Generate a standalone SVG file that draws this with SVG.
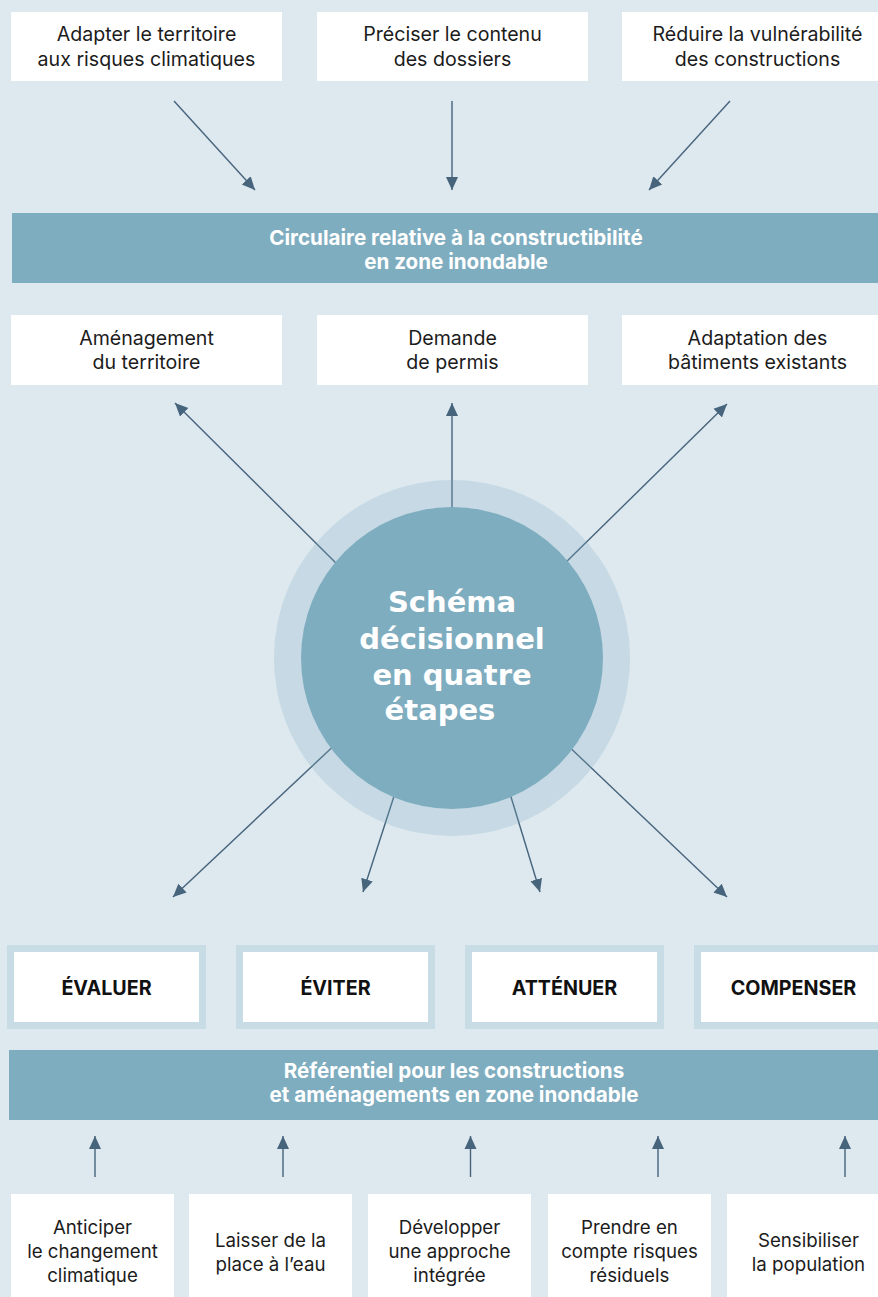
<svg xmlns="http://www.w3.org/2000/svg" width="878" height="1297" viewBox="0 0 878 1297">
<defs>
<marker id="ah" markerUnits="userSpaceOnUse" markerWidth="14" markerHeight="14" viewBox="0 0 14 14" refX="13" refY="7" orient="auto">
<path d="M0,1 L13,7 L0,13 Z" fill="#46647c"/>
</marker>
<style>
.box{fill:#ffffff}
.step{fill:#ffffff;stroke:#c8dce5;stroke-width:7}
.banner{fill:#7fadc0}
.t{font-family:Inter,"Open Sans","Liberation Sans",sans-serif;font-size:19.6px;fill:#1c1c1c;text-anchor:middle}
.tl{font-family:Inter,"Open Sans","Liberation Sans",sans-serif;font-size:18.7px;fill:#1c1c1c;text-anchor:middle}
.tb{font-family:Inter,"Open Sans","Liberation Sans",sans-serif;font-size:20.6px;font-weight:bold;fill:#ffffff;text-anchor:middle}
.ts{font-family:Inter,"Open Sans","Liberation Sans",sans-serif;font-size:19.7px;font-weight:bold;fill:#111111;text-anchor:middle}
.tc{font-family:"DejaVu Sans",Inter,sans-serif;font-size:29px;font-weight:bold;fill:#ffffff;text-anchor:middle}
.c{stroke:#46647c;stroke-width:1.4;fill:none;marker-end:url(#ah)}
</style>
</defs>
<rect x="0" y="0" width="878" height="1297" fill="#dde8ef"/>

<g id="top-nodes">
<g id="n-adapter"><rect class="box" x="11" y="12" width="271" height="69"/>
<text class="t" x="146.5" y="41">Adapter le territoire</text><text class="t" x="146.5" y="66">aux risques climatiques</text></g>
<g id="n-preciser"><rect class="box" x="317" y="12" width="271" height="69"/>
<text class="t" x="452.5" y="41">Préciser le contenu</text><text class="t" x="452.5" y="66">des dossiers</text></g>
<g id="n-reduire"><rect class="box" x="622" y="12" width="271" height="69"/>
<text class="t" x="757.5" y="41">Réduire la vulnérabilité</text><text class="t" x="757.5" y="66">des constructions</text></g>
</g>

<g id="n-circulaire"><rect class="banner" x="12" y="213" width="900" height="70"/>
<text class="tb" x="456" y="245">Circulaire relative à la constructibilité</text><text class="tb" x="456" y="269">en zone inondable</text></g>

<g id="mid-nodes">
<g id="n-amenagement"><rect class="box" x="11" y="315" width="271" height="70"/>
<text class="t" x="146.5" y="345">Aménagement</text><text class="t" x="146.5" y="369">du territoire</text></g>
<g id="n-demande"><rect class="box" x="317" y="315" width="271" height="70"/>
<text class="t" x="452.5" y="345">Demande</text><text class="t" x="452.5" y="369">de permis</text></g>
<g id="n-adaptation"><rect class="box" x="622" y="315" width="271" height="70"/>
<text class="t" x="757.5" y="345">Adaptation des</text><text class="t" x="757.5" y="369">bâtiments existants</text></g>
</g>

<g id="connectors">
<line class="c" x1="174" y1="101" x2="255" y2="190"/>
<line class="c" x1="452" y1="101" x2="452" y2="190"/>
<line class="c" x1="730" y1="101" x2="649" y2="190"/>
<line class="c" x1="343" y1="570" x2="175" y2="403"/>
<line class="c" x1="452" y1="520" x2="452" y2="403"/>
<line class="c" x1="558" y1="570" x2="727" y2="404"/>
<line class="c" x1="341" y1="739" x2="173" y2="897"/>
<line class="c" x1="397" y1="787" x2="363" y2="892"/>
<line class="c" x1="508" y1="787" x2="540" y2="892"/>
<line class="c" x1="562" y1="740" x2="727" y2="897"/>
<line class="c" x1="95" y1="1177" x2="95" y2="1136"/>
<line class="c" x1="283" y1="1177" x2="283" y2="1136"/>
<line class="c" x1="470.5" y1="1177" x2="470.5" y2="1136"/>
<line class="c" x1="658" y1="1177" x2="658" y2="1136"/>
<line class="c" x1="845" y1="1177" x2="845" y2="1136"/>
</g>

<g id="n-schema">
<circle cx="452" cy="658" r="178" fill="#7fadc0" fill-opacity="0.24"/>
<circle cx="452" cy="658" r="151" fill="#7fadc0"/>
<text class="tc" x="452" y="612">Schéma</text>
<text class="tc" x="452" y="649">décisionnel</text>
<text class="tc" x="452" y="685">en quatre</text>
<text class="tc" x="440" y="720">étapes</text>
</g>

<g id="steps">
<g id="n-evaluer"><rect class="step" x="10.5" y="948.5" width="192" height="77"/><text class="ts" x="106.5" y="995">ÉVALUER</text></g>
<g id="n-eviter"><rect class="step" x="239.5" y="948.5" width="192" height="77"/><text class="ts" x="335.5" y="995">ÉVITER</text></g>
<g id="n-attenuer"><rect class="step" x="468.5" y="948.5" width="192" height="77"/><text class="ts" x="564.5" y="995">ATTÉNUER</text></g>
<g id="n-compenser"><rect class="step" x="697.5" y="948.5" width="192" height="77"/><text class="ts" x="793.5" y="995">COMPENSER</text></g>
</g>

<g id="n-referentiel"><rect class="banner" x="9" y="1050" width="900" height="70"/>
<text class="tb" x="454" y="1078">Référentiel pour les constructions</text><text class="tb" x="454" y="1102">et aménagements en zone inondable</text></g>

<g id="bottom-nodes">
<g id="n-anticiper"><rect class="box" x="11" y="1194" width="163" height="110"/>
<text class="tl" x="92.5" y="1234">Anticiper</text><text class="tl" x="92.5" y="1258">le changement</text><text class="tl" x="92.5" y="1282">climatique</text></g>
<g id="n-laisser"><rect class="box" x="189" y="1194" width="163" height="110"/>
<text class="tl" x="270.5" y="1247">Laisser de la</text><text class="tl" x="270.5" y="1271">place à l’eau</text></g>
<g id="n-developper"><rect class="box" x="368" y="1194" width="163" height="110"/>
<text class="tl" x="449.5" y="1234">Développer</text><text class="tl" x="449.5" y="1258">une approche</text><text class="tl" x="449.5" y="1282">intégrée</text></g>
<g id="n-prendre"><rect class="box" x="548" y="1194" width="163" height="110"/>
<text class="tl" x="629.5" y="1234">Prendre en</text><text class="tl" x="629.5" y="1258">compte risques</text><text class="tl" x="629.5" y="1282">résiduels</text></g>
<g id="n-sensibiliser"><rect class="box" x="727" y="1194" width="163" height="110"/>
<text class="tl" x="808.5" y="1247">Sensibiliser</text><text class="tl" x="808.5" y="1271">la population</text></g>
</g>
</svg>
